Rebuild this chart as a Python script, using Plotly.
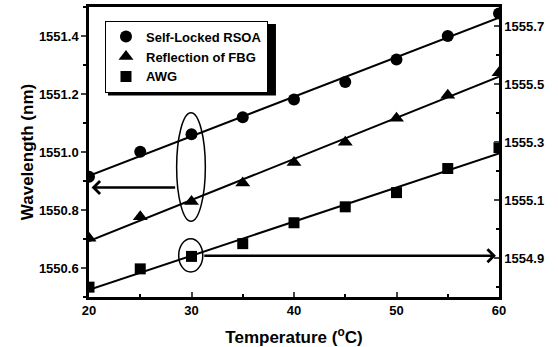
import numpy as np
import plotly.graph_objects as go

# ---- data ----
temperature = [20, 25, 30, 35, 40, 45, 50, 55, 60]
rsoa_nm = [1550.915, 1551.001, 1551.061, 1551.120, 1551.181, 1551.241, 1551.319, 1551.400, 1551.478]
fbg_nm = [1550.703, 1550.777, 1550.829, 1550.893, 1550.964, 1551.034, 1551.116, 1551.196, 1551.273]
awg_nm = [1554.800, 1554.863, 1554.906, 1554.950, 1555.022, 1555.077, 1555.126, 1555.209, 1555.281]

series_names = ["Self-Locked RSOA", "Reflection of FBG", "AWG"]
x_ticks = [20, 30, 40, 50, 60]
y_left_ticks = [1550.6, 1550.8, 1551.0, 1551.2, 1551.4]
y_right_ticks = [1554.9, 1555.1, 1555.3, 1555.5, 1555.7]
x_range = [20, 60]
y_left_range = [1550.5, 1551.5]
y_right_range = [1554.766, 1555.766]

FONT = "Liberation Sans, Arial, sans-serif"

fig = go.Figure()

def fit_line(x, y):
    k, b = np.polyfit(x, y, 1)
    xs = np.array([x_range[0], x_range[1]])
    return xs, k * xs + b

series = [
    (rsoa_nm, "circle", 12, "y"),
    (fbg_nm, "triangle-up", 13, "y"),
    (awg_nm, "square", 11, "y2"),
]
for (vals, sym, size, ax), name in zip(series, series_names):
    fx, fy = fit_line(temperature, vals)
    fig.add_trace(go.Scatter(x=fx, y=fy, mode="lines", yaxis=ax,
                             line=dict(color="black", width=2), showlegend=False,
                             hoverinfo="skip"))
    fig.add_trace(go.Scatter(x=temperature, y=vals, mode="markers", yaxis=ax, name=name,
                             marker=dict(symbol=sym, size=size, color="black")))

# ellipses marking groups
fig.add_shape(type="circle", xref="x", yref="y", x0=28.55, x1=31.35, y0=1550.761, y1=1551.135,
              line=dict(color="black", width=1.5))
fig.add_shape(type="circle", xref="x", yref="y", x0=28.75, x1=31.1, y0=1550.586, y1=1550.701,
              line=dict(color="black", width=1.5))

# arrows pointing to the relevant axes
fig.add_annotation(x=20.25, y=1550.878, ax=28.55, ay=1550.878, xref="x", yref="y",
                   axref="x", ayref="y", showarrow=True, arrowhead=4, arrowwidth=2.5,
                   arrowsize=1, arrowcolor="black", text="")
fig.add_annotation(x=59.7, y=1550.642, ax=31.1, ay=1550.642, xref="x", yref="y",
                   axref="x", ayref="y", showarrow=True, arrowhead=4, arrowwidth=2.5,
                   arrowsize=1, arrowcolor="black", text="")

# legend shadow (legend box itself is drawn on top of it)
fig.add_shape(type="rect", xref="paper", yref="paper", x0=0.0463, x1=0.456, y0=0.6945, y1=0.941,
              fillcolor="black", line=dict(width=0), layer="above")

tickfont = dict(family=FONT, size=13, color="black", weight="bold")
titlefont = dict(family=FONT, size=17, color="black", weight="bold")

fig.update_layout(
    width=558, height=347,
    margin=dict(l=89, r=59, t=7, b=50, autoexpand=False),
    paper_bgcolor="white", plot_bgcolor="white",
    showlegend=True,
    legend=dict(x=0.039, y=0.953, xanchor="left", yanchor="top",
                bgcolor="white", bordercolor="black", borderwidth=1,
                font=dict(family=FONT, size=13, color="black", weight="bold")),
    xaxis=dict(range=x_range, tickvals=x_ticks, ticks="inside", ticklen=5, tickwidth=2,
               showline=True, linecolor="black", linewidth=2.5, mirror=True, automargin=False,
               showgrid=False, zeroline=False, tickfont=tickfont,
               minor=dict(dtick=5, tick0=20, ticks="inside", ticklen=3, tickwidth=1.5, tickcolor="black", showgrid=False),
               title=dict(text="Temperature (<sup>o</sup>C)", font=titlefont, standoff=15)),
    yaxis=dict(range=y_left_range, tickvals=y_left_ticks, tickformat=".1f", ticks="outside",
               ticklen=5, tickwidth=2, showline=True, linecolor="black", linewidth=2.5,
               automargin=False,
               showgrid=False, zeroline=False, tickfont=tickfont,
               minor=dict(dtick=0.1, tick0=1550.5, ticks="outside", ticklen=3, tickwidth=1.5, tickcolor="black", showgrid=False),
               title=dict(text="Wavelength (nm)", font=titlefont, standoff=1)),
    yaxis2=dict(range=y_right_range, tickvals=y_right_ticks, tickformat=".1f", overlaying="y",
                side="right", ticks="inside", ticklen=5, tickwidth=2, showline=True,
                linecolor="black", linewidth=2.5, showgrid=False, zeroline=False,
                automargin=False, tickfont=tickfont,
                minor=dict(tickvals=[1554.8, 1555.0, 1555.2, 1555.4, 1555.6], ticks="inside", ticklen=3, tickwidth=1.5, tickcolor="black", showgrid=False)),
)

fig.write_html("out.html", config={"displayModeBar": False},
               post_script="document.body.style.margin='0';document.body.style.padding='0';")
